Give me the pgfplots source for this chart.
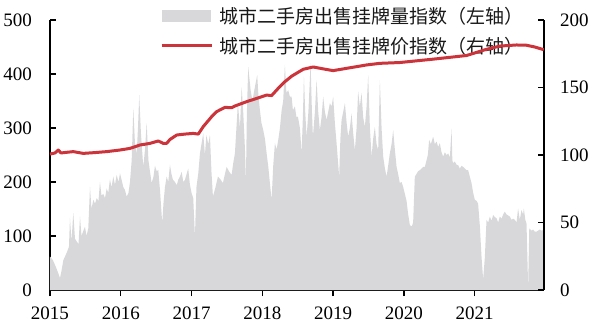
\documentclass[border=0pt]{standalone}
\usepackage{pgfplots}
\pgfplotsset{compat=1.18}
\usepackage{fontspec}
\setmainfont{Liberation Serif}
\newfontfamily\cjk{Noto Sans CJK SC}
\definecolor{barcol}{RGB}{216,216,219}
\definecolor{linecol}{RGB}{202,52,58}
\begin{document}
\begin{tikzpicture}
\pgfplotsset{
  every axis/.append style={
    scale only axis, width=494pt, height=270pt,
    xmin=2015, xmax=2021.98,
    axis line style={line width=1.3pt, black},
    major tick style={line width=1.3pt, black},
    major tick length=6pt,
    /pgf/number format/assume math mode=true,
    tick label style={font=\fontsize{19}{19}\selectfont},
  }
}
% x ticks (outside)
\begin{axis}[
  axis x line*=bottom, axis y line=none,
  ymin=0, ymax=500,
  tick align=outside,
  xtick={2015,2016,2017,2018,2019,2020,2021},
  xticklabel style={/pgf/number format/1000 sep={}, anchor=north, inner sep=0pt, yshift=-11pt},
  ytick=\empty,
]
\end{axis}
% bars, left axis
\begin{axis}[
  axis x line*=bottom, axis y line*=left,
  ymin=0, ymax=500,
  tick align=inside,
  xtick=\empty,
  ytick={0,100,200,300,400,500},
  yticklabel style={anchor=east, inner sep=0pt, xshift=-18pt},
  legend style={at={(0.2227,1.0556)}, anchor=north west, draw=none, fill=none,
    inner sep=0pt, font=\cjk\fontsize{19}{19}\selectfont, text=black!90,
    row sep=8pt, /tikz/every odd column/.append style={column sep=4pt}},
  legend cell align=left,
]
\addplot[fill=barcol, draw=none, forget plot] table[row sep=\\] {
x y\\
2015.000 62\\ 2015.042 55\\ 2015.085 42\\ 2015.120 30\\ 2015.141 22\\ 2015.162 35\\
2015.188 55\\ 2015.236 69\\ 2015.268 80\\ 2015.282 133\\ 2015.304 90\\ 2015.329 143\\
2015.353 95\\ 2015.377 90\\ 2015.403 85\\ 2015.424 136\\ 2015.445 100\\ 2015.466 108\\
2015.494 117\\ 2015.516 100\\ 2015.541 114\\ 2015.565 191\\ 2015.586 150\\ 2015.612 167\\
2015.636 160\\ 2015.660 170\\ 2015.685 165\\ 2015.706 200\\ 2015.727 175\\ 2015.753 178\\
2015.777 170\\ 2015.801 188\\ 2015.823 180\\ 2015.847 205\\ 2015.869 190\\ 2015.894 210\\
2015.918 195\\ 2015.942 213\\ 2015.968 200\\ 2015.989 216\\ 2016.010 205\\ 2016.035 191\\
2016.059 185\\ 2016.083 173\\ 2016.109 180\\ 2016.130 200\\ 2016.154 240\\ 2016.177 336\\
2016.201 270\\ 2016.225 253\\ 2016.243 300\\ 2016.261 361\\ 2016.285 290\\ 2016.318 228\\
2016.342 260\\ 2016.366 309\\ 2016.391 240\\ 2016.412 220\\ 2016.436 198\\ 2016.462 210\\
2016.483 230\\ 2016.507 220\\ 2016.530 222\\ 2016.554 185\\ 2016.572 150\\ 2016.586 124\\
2016.603 160\\ 2016.624 190\\ 2016.648 210\\ 2016.671 200\\ 2016.695 232\\ 2016.716 215\\
2016.737 204\\ 2016.766 200\\ 2016.790 194\\ 2016.815 205\\ 2016.836 210\\ 2016.860 219\\
2016.883 200\\ 2016.907 204\\ 2016.931 215\\ 2016.953 225\\ 2016.977 195\\ 2017.001 179\\
2017.024 170\\ 2017.048 99\\ 2017.069 190\\ 2017.095 216\\ 2017.119 253\\ 2017.140 270\\
2017.165 290\\ 2017.189 250\\ 2017.210 287\\ 2017.236 270\\ 2017.260 287\\ 2017.281 220\\
2017.302 173\\ 2017.338 190\\ 2017.373 210\\ 2017.408 205\\ 2017.443 198\\ 2017.472 215\\
2017.496 228\\ 2017.528 220\\ 2017.566 213\\ 2017.589 235\\ 2017.613 253\\ 2017.634 300\\
2017.655 346\\ 2017.684 300\\ 2017.708 376\\ 2017.730 330\\ 2017.754 263\\ 2017.768 200\\
2017.782 330\\ 2017.801 413\\ 2017.835 370\\ 2017.860 350\\ 2017.895 376\\ 2017.928 398\\
2017.945 360\\ 2017.966 333\\ 2017.987 310\\ 2018.013 296\\ 2018.037 280\\ 2018.061 253\\
2018.083 230\\ 2018.107 198\\ 2018.131 167\\ 2018.154 230\\ 2018.178 272\\ 2018.202 260\\
2018.225 278\\ 2018.249 300\\ 2018.273 333\\ 2018.295 350\\ 2018.319 417\\ 2018.340 365\\
2018.366 370\\ 2018.390 358\\ 2018.414 358\\ 2018.432 333\\ 2018.460 340\\ 2018.482 320\\
2018.503 321\\ 2018.531 300\\ 2018.555 253\\ 2018.573 320\\ 2018.588 395\\ 2018.606 330\\
2018.626 284\\ 2018.651 330\\ 2018.682 420\\ 2018.701 330\\ 2018.715 284\\ 2018.743 330\\
2018.767 389\\ 2018.790 330\\ 2018.813 296\\ 2018.837 320\\ 2018.860 358\\ 2018.884 330\\
2018.908 315\\ 2018.931 330\\ 2018.955 346\\ 2018.979 340\\ 2019.001 358\\ 2019.025 310\\
2019.049 272\\ 2019.086 210\\ 2019.103 280\\ 2019.120 315\\ 2019.143 330\\ 2019.167 346\\
2019.191 310\\ 2019.213 284\\ 2019.237 300\\ 2019.261 327\\ 2019.284 290\\ 2019.308 259\\
2019.332 300\\ 2019.354 368\\ 2019.378 340\\ 2019.402 365\\ 2019.425 320\\ 2019.449 302\\
2019.473 340\\ 2019.496 398\\ 2019.520 300\\ 2019.544 247\\ 2019.566 280\\ 2019.590 302\\
2019.614 270\\ 2019.637 259\\ 2019.661 389\\ 2019.685 300\\ 2019.708 247\\ 2019.732 225\\
2019.756 210\\ 2019.778 230\\ 2019.802 253\\ 2019.826 270\\ 2019.849 296\\ 2019.873 260\\
2019.897 228\\ 2019.919 215\\ 2019.943 198\\ 2019.967 200\\ 2019.990 191\\ 2020.014 178\\
2020.038 165\\ 2020.061 140\\ 2020.085 120\\ 2020.113 118\\ 2020.131 125\\ 2020.155 210\\
2020.179 215\\ 2020.202 220\\ 2020.226 222\\ 2020.250 225\\ 2020.273 228\\ 2020.297 228\\
2020.320 240\\ 2020.339 250\\ 2020.357 278\\ 2020.381 270\\ 2020.414 284\\ 2020.438 270\\
2020.462 275\\ 2020.484 265\\ 2020.508 272\\ 2020.532 255\\ 2020.555 247\\ 2020.579 255\\
2020.603 250\\ 2020.626 253\\ 2020.650 245\\ 2020.674 299\\ 2020.685 240\\ 2020.696 235\\
2020.720 238\\ 2020.744 232\\ 2020.767 231\\ 2020.791 225\\ 2020.815 230\\ 2020.838 228\\
2020.862 225\\ 2020.886 222\\ 2020.908 222\\ 2020.932 210\\ 2020.956 198\\ 2020.979 180\\
2021.003 167\\ 2021.027 165\\ 2021.049 160\\ 2021.073 120\\ 2021.097 62\\ 2021.120 20\\
2021.144 60\\ 2021.168 130\\ 2021.191 125\\ 2021.215 136\\ 2021.239 128\\ 2021.261 139\\
2021.285 135\\ 2021.309 133\\ 2021.332 125\\ 2021.356 136\\ 2021.380 132\\ 2021.403 140\\
2021.426 145\\ 2021.450 140\\ 2021.473 138\\ 2021.497 136\\ 2021.521 130\\ 2021.544 132\\
2021.568 130\\ 2021.592 125\\ 2021.614 151\\ 2021.638 130\\ 2021.662 148\\ 2021.685 140\\
2021.695 151\\ 2021.716 130\\ 2021.733 123\\ 2021.756 5\\ 2021.772 114\\ 2021.804 110\\
2021.826 112\\ 2021.850 108\\ 2021.874 108\\ 2021.897 110\\ 2021.921 112\\ 2021.945 110\\
2021.967 111\\ 2021.977 111\\
} \closedcycle;
\addlegendimage{legend image code/.code={\fill[barcol] (0pt,-5.5pt) rectangle (48pt,5.5pt);}}
\addlegendentry{城市二手房出售挂牌量指数（左轴）}
\addlegendimage{legend image code/.code={\draw[linecol, line width=3pt] (0pt,0pt) -- (50pt,0pt);}}
\addlegendentry{城市二手房出售挂牌价指数（右轴）}
\end{axis}
% line, right axis
\begin{axis}[
  axis x line=none, axis y line*=right,
  ymin=0, ymax=200,
  tick align=inside,
  xtick=\empty,
  ytick={0,50,100,150,200},
  yticklabel style={anchor=west, inner sep=0pt, xshift=16pt},
]
\addplot[linecol, line width=3pt, line join=round] table[row sep=\\] {
x y\\
2015.000 100.7\\ 2015.071 101.5\\ 2015.117 103.7\\ 2015.155 101.5\\ 2015.236 102.0\\
2015.329 102.5\\ 2015.470 101.2\\ 2015.612 101.7\\ 2015.801 102.5\\ 2015.989 103.7\\
2016.130 104.9\\ 2016.271 107.4\\ 2016.412 108.6\\ 2016.530 110.4\\ 2016.600 108.6\\
2016.648 108.6\\ 2016.695 111.5\\ 2016.790 114.8\\ 2016.907 115.5\\ 2017.024 116.0\\
2017.095 115.5\\ 2017.165 121.0\\ 2017.284 128.4\\ 2017.354 132.1\\ 2017.472 135.3\\
2017.566 135.0\\ 2017.613 136.3\\ 2017.778 139.5\\ 2017.966 142.7\\ 2018.061 144.4\\
2018.131 144.0\\ 2018.225 149.4\\ 2018.319 154.3\\ 2018.418 158.5\\ 2018.578 163.5\\
2018.719 165.2\\ 2018.860 163.8\\ 2019.001 162.5\\ 2019.191 164.2\\ 2019.473 166.7\\
2019.661 167.9\\ 2019.943 168.5\\ 2020.414 171.0\\ 2020.886 173.7\\ 2021.168 178.3\\
2021.356 180.7\\ 2021.592 181.5\\ 2021.733 181.3\\ 2021.850 180.0\\ 2021.977 178.0\\
};
\end{axis}
\pgfresetboundingbox
\path[use as bounding box] (-50pt,-37pt) rectangle (550pt,290pt);
\end{tikzpicture}
\end{document}
